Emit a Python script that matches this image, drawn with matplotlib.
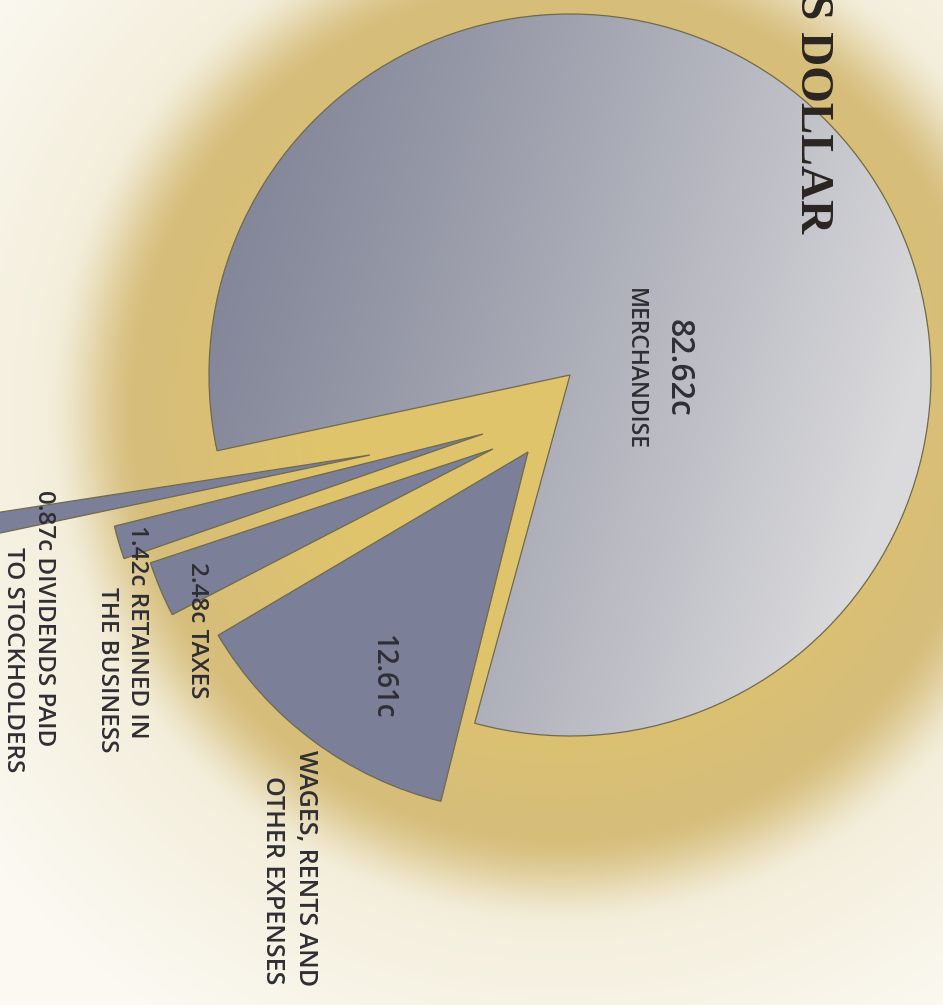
import numpy as np
import matplotlib
matplotlib.use("Agg")
import matplotlib.pyplot as plt
from matplotlib.patches import Wedge

# canvas size in pixels
W, H = 943, 1005

# where each cent of the dollar goes
categories = ["MERCHANDISE", "WAGES, RENTS AND OTHER EXPENSES", "TAXES",
              "RETAINED IN THE BUSINESS", "DIVIDENDS PAID TO STOCKHOLDERS"]
values = [82.62, 12.61, 2.48, 1.42, 0.87]
amounts = ["82.62c", "12.61c", "2.48c", "1.42c", "0.87c"]

# label lines per slice (first line carries the amount for the small ones)
label_lines = [
    ["MERCHANDISE"],
    ["WAGES, RENTS AND", "OTHER EXPENSES"],
    [amounts[2] + " TAXES"],
    [amounts[3] + " RETAINED IN", "THE BUSINESS"],
    [amounts[4] + " DIVIDENDS PAID", "TO STOCKHOLDERS"],
]

# layout (pixel coords, y down): wedge tip, radius, middle direction (deg)
tips = [(570, 375), (528, 452), (493, 449), (483, 434), (370, 455)]
radii = [361, 360, 361, 380, 400]
mids = [43.4, 233.3, 202.85, 196.6, 190.35]

slice_col = "#7b7f97"
edge_col = "#6f6a4c"
text_col = "#2e2e34"


def blend(c1, c2, t):
    c1 = np.array(c1, float) / 255
    c2 = np.array(c2, float) / 255
    return c1 + (c2 - c1) * t[..., None]


fig = plt.figure(figsize=(W / 100, H / 100), dpi=100)
ax = fig.add_axes([0, 0, 1, 1])

# golden glow behind the pie
yy, xx = np.mgrid[0:H, 0:W]
d = np.hypot(xx - 560, yy - 412)
t0 = np.clip((d - 250) / 170, 0, 1)
t1 = np.clip((d - 420) / 100, 0, 1)
t1 = t1 * t1 * (3 - 2 * t1)
t2 = np.clip((d - 520) / 200, 0, 1)
bg = blend((224, 196, 108), (214, 189, 122), t0)
bg = bg + (np.array([244, 239, 221]) / 255 - bg) * t1[..., None]
bg = bg + (np.array([251, 249, 242]) / 255 - bg) * t2[..., None]
ax.imshow(bg, extent=(0, W, 0, H), origin="upper", zorder=0, aspect="auto")

total = sum(values)
for i, v in enumerate(values):
    span = v / total * 360
    cx, cy = tips[i]
    w = Wedge((cx, H - cy), radii[i], mids[i] - span / 2, mids[i] + span / 2,
              facecolor=slice_col if i else "none", edgecolor=edge_col,
              linewidth=0.9, zorder=3)
    ax.add_patch(w)
    if i == 0:
        # shaded grey for the big slice, dark on the left, light on the right
        g = np.clip(((xx - 210) + 0.3 * (yy - 120)) / 780, 0, 1)
        shade = blend((128, 131, 150), (218, 218, 220), g ** 1.2)
        im = ax.imshow(shade, extent=(0, W, 0, H), origin="upper",
                       zorder=2, aspect="auto")
        im.set_clip_path(w)

font = "Open Sans"
# amounts inside the two large slices
ax.text(678, H - 368, amounts[0], rotation=-90, ha="center", va="center",
        fontsize=23, family=font, weight="semibold", color=text_col, zorder=5)
ax.text(382, H - 677, amounts[1], rotation=-90, ha="center", va="center",
        fontsize=20, family=font, weight="semibold", color=text_col, zorder=5)

# label line positions (pixel centers)
line_pos = [
    [(635, 369)],
    [(305, 868), (273, 880)],
    [(197, 630)],
    [(137, 632), (107, 670)],
    [(44, 618), (13, 660)],
]
line_size = [16.5, 18, 17.5, 17.5, 17.5]
for lines, pos, fs in zip(label_lines, line_pos, line_size):
    for s, (x, y) in zip(lines, pos):
        ax.text(x, H - y, s, rotation=-90, ha="center", va="center",
                fontsize=fs, family=font, weight="semibold", color=text_col,
                zorder=5)

# title, cut off at the top edge like the original
ax.text(812, H - 233, "S DOLLAR", rotation=-90, ha="center", va="bottom",
        fontsize=34, family="Liberation Serif", weight="bold",
        color="#2a2520", zorder=5)

ax.set_xlim(0, W)
ax.set_ylim(0, H)
ax.axis("off")
fig.savefig("out.png", dpi=100)
